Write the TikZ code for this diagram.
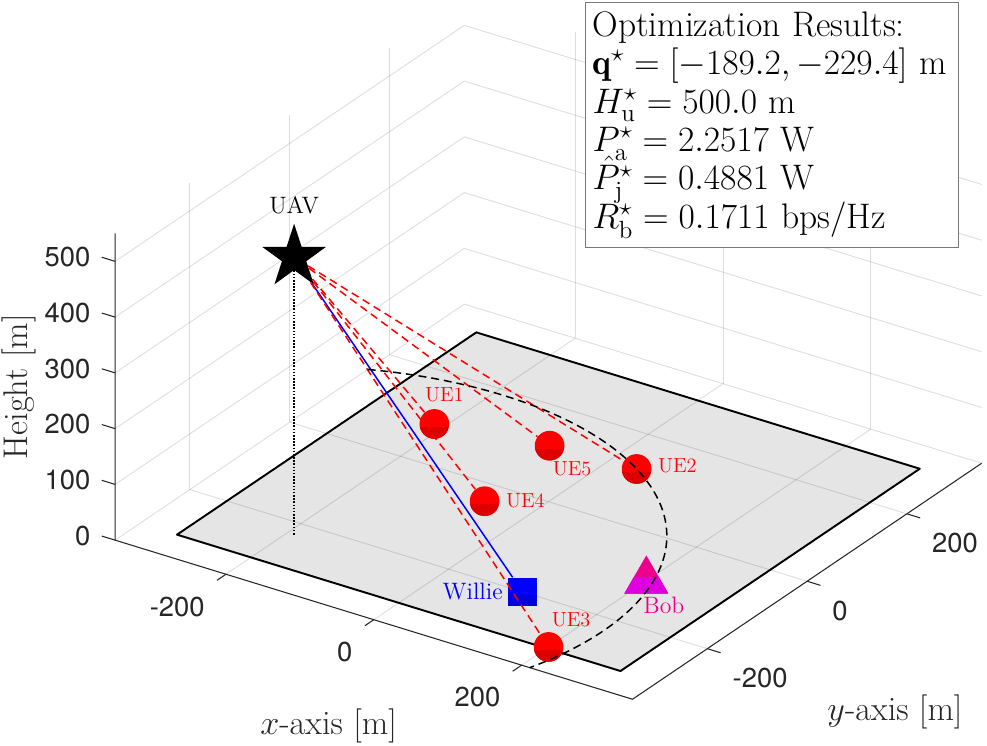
\RequirePackage{fix-cm}
\documentclass[tikz,border=0pt]{standalone}
\usepackage{amsmath}
\usepackage{amssymb}
\usepackage{fontspec}
\usetikzlibrary{positioning,shapes.geometric}
\newfontfamily\tickFont{TeX Gyre Heros}
\definecolor{axisColor}{RGB}{38,38,38}
\definecolor{planeColor}{RGB}{229,229,229}
\definecolor{boxEdge}{RGB}{120,120,120}
\definecolor{ueShade}{RGB}{222,0,0}
\definecolor{willieShade}{RGB}{0,0,222}
\definecolor{bobShade}{RGB}{222,0,222}
\tikzstyle{space3d} = [shift={(548.4,501.7)}, x={(0.014792cm,-0.004552cm)}, y={(0.009972cm,0.006742cm)}, z={(0cm,0.01116cm)}]
\tikzstyle{gridLine} = [black, opacity=0.13, line width=0.5pt]
\tikzstyle{axisLine} = [color=axisColor, line width=0.6pt]
\tikzstyle{planeStyle} = [fill=planeColor, draw=black, line width=1.1pt, line join=round]
\tikzstyle{tickText} = [font=\tickFont\fontsize{15.6}{18}\selectfont, text=axisColor, inner sep=0pt]
\tikzstyle{axisText} = [font=\fontsize{19.5}{22}\selectfont, text=axisColor, inner sep=0pt]
\tikzstyle{resultsText} = [font={\fontsize{20.2}{21.9}\selectfont\lineskiplimit=-20pt}, draw=boxEdge, line width=0.6pt, fill=white, align=left, text width=7.176cm, minimum height=4.9cm, inner xsep=0.15cm, inner ysep=0pt]
\tikzset{shadeLow/.style={path picture={\fill[#1] ([yshift=-0.06cm]path picture bounding box.west) rectangle (path picture bounding box.south east);}}}
\tikzstyle{uavMarker} = [star, star points=5, star point ratio=2.618, minimum size=1.34cm, inner sep=0pt, fill=black]
\tikzstyle{ueMarker} = [circle, minimum size=0.594cm, inner sep=0pt, fill=red, shadeLow=ueShade]
\tikzstyle{willieMarker} = [rectangle, minimum size=0.566cm, inner sep=0pt, fill=blue, shadeLow=willieShade]
\tikzstyle{bobMarker} = [regular polygon, regular polygon sides=3, minimum size=1.02cm, inner sep=0pt, fill=magenta, shadeLow=bobShade]
\tikzstyle{ueText} = [font=\fontsize{11.6}{13}\selectfont, text=red, inner sep=0pt]
\tikzstyle{nameText} = [font=\fontsize{13.5}{16}\selectfont, inner sep=0pt]
\tikzstyle{redDash} = [red, line width=0.85pt, dash pattern=on 4.5pt off 2.8pt]
\tikzstyle{blueLine} = [blue, line width=0.85pt]
\tikzstyle{circleDash} = [black, line width=0.85pt, dash pattern=on 4.5pt off 2.8pt]
\tikzstyle{dropLine} = [black, line width=0.9pt, dash pattern=on 0.9pt off 0.9pt]
\begin{document}
\begin{tikzpicture}[x=0.02cm, y=-0.02cm]
\useasboundingbox (0,0) rectangle (987,746);
\begin{scope}[space3d]
  \foreach \tick in {-200,0,200} {
    \draw[gridLine] (-350,\tick,0) -- (-350,\tick,550);
    \draw[gridLine] (\tick,350,0) -- (\tick,350,550);
  }
  \foreach \level in {0,100,...,500} {
    \draw[gridLine] (-350,-350,\level) -- (-350,350,\level) -- (350,350,\level);
  }
  \draw[planeStyle] (-300,-300,0) -- (300,-300,0) -- (300,300,0) -- (-300,300,0) -- cycle;
  \foreach \tick in {-200,0,200} {
    \draw[gridLine] (\tick,-350,0) -- (\tick,350,0);
    \draw[gridLine] (-350,\tick,0) -- (350,\tick,0);
  }
  \draw[axisLine] (-350,-350,550) -- (-350,-350,0) -- (350,-350,0) -- (350,350,0);
  \foreach \level in {0,100,...,500} {
    \draw[axisLine] (-350,-350,\level) -- ++(-18,0,0);
    \node[tickText, anchor=east, xshift=-0.486cm, yshift=0.084cm] (zLabel\level) at (-350,-350,\level) {\level};
  }
  \foreach \tick in {-200,0,200} {
    \draw[axisLine] (\tick,-350,0) -- ++(0,-18,0);
    \draw[axisLine] (350,\tick,0) -- ++(18,0,0);
    \node[tickText, anchor=north east, xshift=-0.42cm, yshift=-0.44cm] (xLabel\tick) at (\tick,-350,0) {\tick};
    \node[tickText, anchor=north west, xshift=0.5cm, yshift=-0.38cm] (yLabel\tick) at (350,\tick,0) {\tick};
  }
  \node[uavMarker] (uav) at (-189.2,-229.4,500) {};
  \coordinate (uavFoot) at (-189.2,-229.4,0);
  \node[ueMarker] (ue1) at (-213,87,0) {};
  \node[ueMarker] (ue2) at (37,122,0) {};
  \node[ueMarker] (ue3) at (200,-296,0) {};
  \node[ueMarker] (ue4) at (-60,-39,0) {};
  \node[ueMarker] (ue5) at (-76,115,0) {};
  \node[willieMarker] (willie) at (100,-200,0) {};
  \node[bobMarker] (bob) at (200,-100,0) {};
  \draw[dropLine] (uav) -- (uavFoot);
  \draw[blueLine] (uav) -- (willie);
  \foreach \ue in {ue1,ue2,ue3,ue4,ue5} \draw[redDash] (uav) -- (\ue);
  \draw[circleDash] plot[domain=112.63:-16.77, samples=90] ({-189.2+418*cos(\x)}, {-229.4+418*sin(\x)}, 0);
  \node[nameText, above=0.16cm of uav] (uavLabel) {UAV};
  \node[ueText, above=0.12cm of ue1, xshift=0.2cm] (ue1Label) {UE1};
  \node[ueText, right=0.12cm of ue2, yshift=0.06cm] (ue2Label) {UE2};
  \node[ueText, above=0.08cm of ue3, xshift=0.45cm] (ue3Label) {UE3};
  \node[ueText, right=0.12cm of ue4] (ue4Label) {UE4};
  \node[ueText, below=0cm of ue5, xshift=0.45cm] (ue5Label) {UE5};
  \node[nameText, text=blue, left=0.1cm of willie] (willieLabel) {Willie};
  \node[nameText, text=magenta, below=0.06cm of bob, xshift=0.35cm] (bobLabel) {Bob};
\end{scope}
\node[axisText] (xAxisLabel) at (328.6,726) {$x$-axis [m]};
\node[axisText] (yAxisLabel) at (895,711.5) {$y$-axis [m]};
\node[axisText, rotate=90] (zAxisLabel) at (19,386.7) {Height [m]};
\node[resultsText, anchor=north west] (resultsBox) at (584.5,2) {Optimization Results:\\
\mbox{$\mathbf{q}^{\star}=[-189.2,-229.4]$ m}\\
\mbox{$H_{\mathrm{u}}^{\star}=500.0$ m}\\
\mbox{$P_{\mathrm{a}}^{\star}=2.2517$ W}\\
\mbox{$\hat{P}_{\mathrm{j}}^{\star}=0.4881$ W}\\
\mbox{$R_{\mathrm{b}}^{\star}=0.1711$ bps/Hz}};
\end{tikzpicture}
\end{document}
